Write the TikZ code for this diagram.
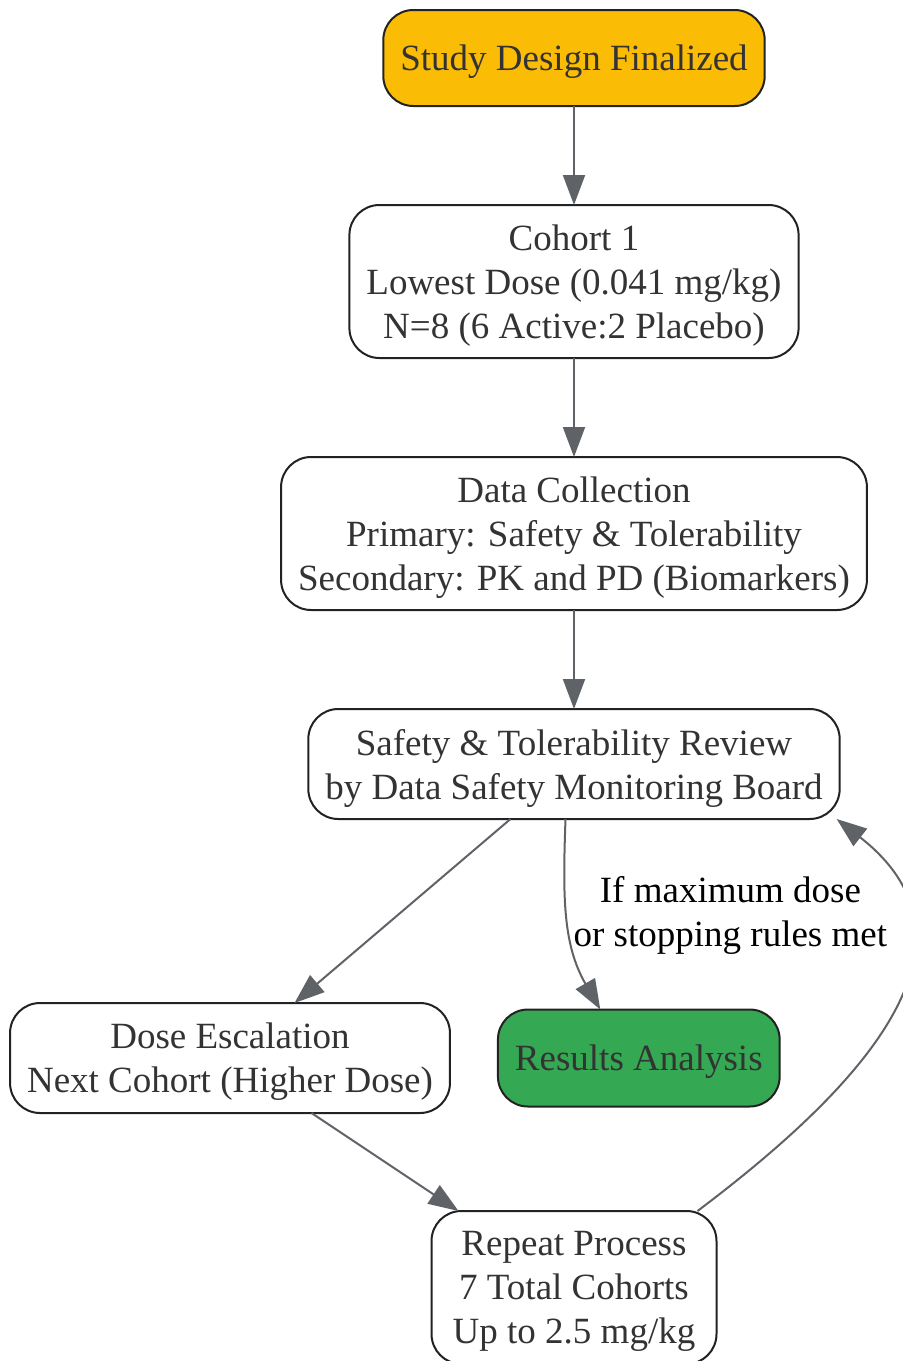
\documentclass[tikz,border=0pt]{standalone}
\usepackage{fontspec}
\setmainfont{Liberation Serif}
\usetikzlibrary{arrows.meta,positioning}
\definecolor{colorStart}{HTML}{FBBC05}
\definecolor{colorEnd}{HTML}{34A853}
\definecolor{colorLine}{HTML}{5F6368}
\definecolor{colorText}{HTML}{333333}
\definecolor{colorBorder}{HTML}{222222}

\begin{document}
\begin{tikzpicture}[x=0.5pt,y=-0.5pt,node distance=49.5pt,>={Triangle[length=15pt,width=11pt]},every node/.append style={align=center,font=\fontsize{18.5}{22}\selectfont},box/.style={draw=colorBorder,line width=1pt,rounded corners=15pt,fill=white,text=colorText,inner xsep=8.5pt,inner ysep=0pt,outer sep=0pt,text depth=-2pt},flow/.style={every edge/.append style={->,draw=colorLine,line width=1pt}}]
    \useasboundingbox (0,0) rectangle (903,1361);
    \node [box, fill=colorStart, minimum height=48pt] (Start) at (574,58) {Study Design Finalized};
    \node [box, below=of Start, minimum height=76.5pt] (Cohort) {Cohort 1\\Lowest Dose (0.041 mg/kg)\\N=8 (6 Active:2 Placebo)};
    \node [box, below=of Cohort, minimum height=76.5pt] (Data) {Data Collection\\Primary: Safety \& Tolerability\\Secondary: PK and PD (Biomarkers)};
    \node [box, below=of Data, minimum height=55pt] (Review) {Safety \& Tolerability Review\\by Data Safety Monitoring Board};
    \node [box, below=92pt of Review, xshift=-172pt, minimum height=55pt] (Escalate) {Dose Escalation\\Next Cohort (Higher Dose)};
    \node [box, right=24pt of Escalate, fill=colorEnd, minimum height=48.5pt] (Results) {Results Analysis};
    \node [box, anchor=north, minimum height=76.5pt, minimum width=142.5pt] (Repeat) at ([yshift=-49pt]Escalate.south -| Review.south) {Repeat Process\\7 Total Cohorts\\Up to 2.5 mg/kg};
    \path[flow] (Start) edge (Cohort);
    \path[flow] (Cohort) edge (Data);
    \path[flow] (Data) edge (Review);
    \path[flow] ([xshift=-31.75pt]Review.south) edge ([xshift=32.25pt]Escalate.north);
    \path[flow] ([xshift=-4.25pt]Review.south) edge [out=-92, in=120] node [anchor=west, inner sep=2.5pt, yshift=1.5pt] {If maximum dose\\or stopping rules met} ([xshift=-19.25pt]Results.north);
    \path[flow] ([xshift=40.75pt]Escalate.south) edge ([xshift=-57.75pt]Repeat.north);
    \path[flow] ([xshift=-9.5pt]Repeat.north east) edge [out=37, in=-38, looseness=1.25] ([xshift=-1.5pt]Review.south east);
\end{tikzpicture}
\end{document}
